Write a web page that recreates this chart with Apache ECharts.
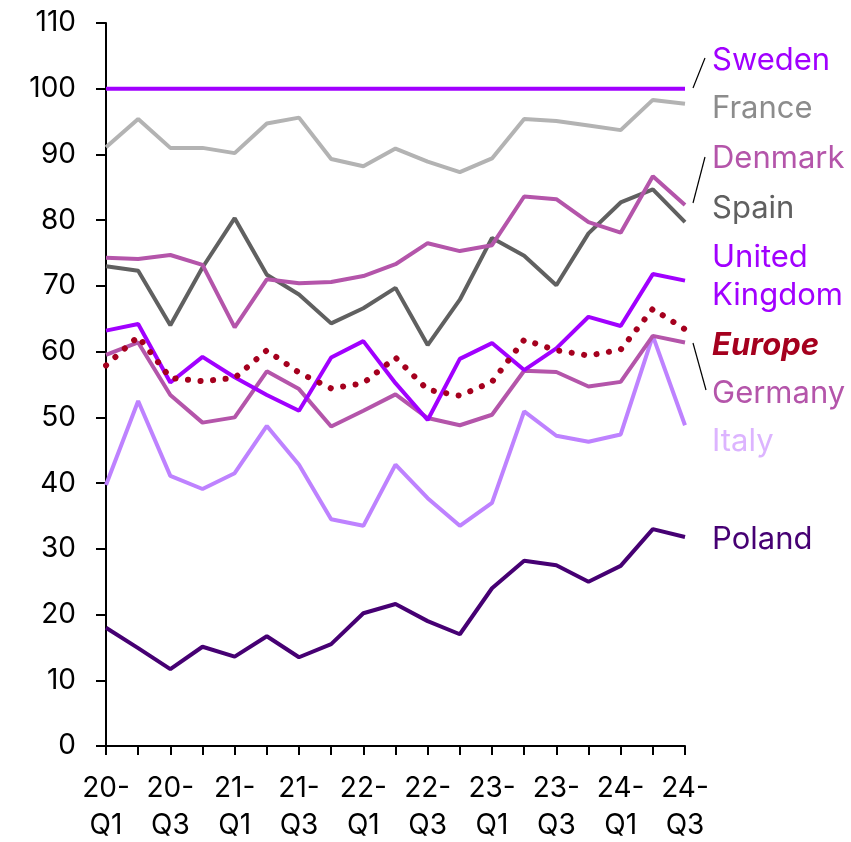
<!DOCTYPE html>
<html>
<head>
<meta charset="utf-8">
<script src="https://cdn.jsdelivr.net/npm/echarts@6/dist/echarts.min.js"></script>
<style>
  html, body { margin: 0; padding: 0; background: #fff; }
  #chart { width: 851px; height: 842px; }
</style>
</head>
<body>
<div id="chart"></div>
<script>
// quarters 20-Q1 .. 24-Q3
var quarters = ['20-\nQ1','20-\nQ2','20-\nQ3','20-\nQ4','21-\nQ1','21-\nQ2','21-\nQ3','21-\nQ4',
  '22-\nQ1','22-\nQ2','22-\nQ3','22-\nQ4','23-\nQ1','23-\nQ2','23-\nQ3','23-\nQ4','24-\nQ1','24-\nQ2','24-\nQ3'];

var sweden  = [100,100,100,100,100,100,100,100,100,100,100,100,100,100,100,100,100,100,100];
var france  = [91.1,95.4,91.0,91.0,90.2,94.7,95.6,89.3,88.2,90.9,88.9,87.3,89.4,95.4,95.1,94.4,93.7,98.3,97.7];
var denmark = [74.3,74.1,74.7,73.2,63.7,71.0,70.4,70.6,71.5,73.3,76.5,75.3,76.2,83.6,83.2,79.7,78.1,86.7,82.3];
var spain   = [73.0,72.3,64.0,72.8,80.3,71.7,68.7,64.3,66.6,69.7,61.0,67.9,77.3,74.6,70.1,78.0,82.7,84.7,79.7];
var uk      = [63.2,64.2,55.3,59.2,56.1,53.4,51.0,59.1,61.6,55.2,49.6,58.9,61.3,57.2,60.5,65.3,63.9,71.8,70.8];
var europe  = [57.9,62.3,56.0,55.5,56.0,60.2,56.8,54.4,55.2,59.1,54.2,53.3,55.4,61.8,60.2,59.4,60.3,66.5,63.4];
var germany = [59.5,61.4,53.4,49.2,50.0,57.0,54.3,48.6,51.0,53.5,49.9,48.8,50.4,57.1,56.9,54.7,55.4,62.4,61.4];
var italy   = [39.7,52.5,41.1,39.1,41.5,48.7,42.8,34.5,33.5,42.8,37.7,33.5,37.0,50.9,47.2,46.3,47.4,62.4,48.8];
var poland  = [18.0,14.9,11.7,15.1,13.6,16.7,13.5,15.5,20.2,21.6,19.0,17.0,24.0,28.2,27.5,25.0,27.4,33.0,31.8];

var FONT = 'Inter, "Noto Sans", sans-serif';

function line(name, data, color, extra) {
  var s = {
    name: name,
    type: 'line',
    data: data,
    symbol: 'none',
    lineStyle: { color: color, width: 4 },
    z: 2
  };
  if (extra) {
    for (var k in extra) s[k] = extra[k];
  }
  return s;
}

// country names at the right edge
function label(text, y, color, weight, style) {
  return {
    type: 'text',
    left: 712,
    top: y - 15,
    style: {
      text: text,
      fill: color,
      font: (style || 'normal') + ' ' + (weight || 'normal') + ' 31px ' + FONT
    }
  };
}

function leader(x1, y1, x2, y2) {
  return {
    type: 'line',
    shape: { x1: x1, y1: y1, x2: x2, y2: y2 },
    style: { stroke: '#000', lineWidth: 1.2 }
  };
}

var chart = echarts.init(document.getElementById('chart'));
var option = {
  animation: false,
  backgroundColor: '#fff',
  grid: { left: 106, right: 166, top: 23, bottom: 96, outerBoundsMode: 'none' },
  xAxis: {
    type: 'category',
    data: quarters,
    boundaryGap: false,
    axisLine: { lineStyle: { color: '#000', width: 2 } },
    axisTick: { show: true, interval: 0, length: 9, lineStyle: { color: '#000', width: 2 } },
    axisLabel: {
      interval: 1,
      color: '#000',
      fontFamily: FONT,
      fontSize: 28,
      lineHeight: 37,
      margin: 24
    }
  },
  yAxis: {
    type: 'value',
    min: 0,
    max: 110,
    interval: 10,
    splitLine: { show: false },
    axisLine: { show: true, lineStyle: { color: '#000', width: 2 } },
    axisTick: { show: true, length: 10, lineStyle: { color: '#000', width: 2 } },
    axisLabel: {
      color: '#000',
      fontFamily: FONT,
      fontSize: 28,
      margin: 30
    }
  },
  series: [
    line('Poland', poland, '#460073'),
    line('Italy', italy, '#be82ff'),
    line('Germany', germany, '#b455aa'),
    line('Spain', spain, '#606060'),
    line('Denmark', denmark, '#b455aa'),
    line('France', france, '#b3b3b3'),
    line('United Kingdom', uk, '#a100ff'),
    line('Sweden', sweden, '#a100ff'),
    line('Europe', europe, '#a5001e', {
      lineStyle: { color: '#a5001e', width: 6, type: [0.1, 12.5], cap: 'round' },
      z: 3
    })
  ],
  graphic: [
    leader(693, 88, 705, 58),
    leader(693, 203, 705, 157),
    leader(693, 343, 706, 390),
    label('Sweden', 60, '#a100ff'),
    label('France', 108, '#8c8c8c'),
    label('Denmark', 158, '#b455aa'),
    label('Spain', 208, '#606060'),
    label('United', 257, '#a100ff'),
    label('Kingdom', 295, '#a100ff'),
    label('Europe', 345, '#a5001e', 'bold', 'italic'),
    label('Germany', 393, '#b455aa'),
    label('Italy', 441, '#dcb4ff'),
    label('Poland', 539, '#460073')
  ]
};
chart.setOption(option);
window.onresize = chart.resize;
</script>
</body>
</html>
